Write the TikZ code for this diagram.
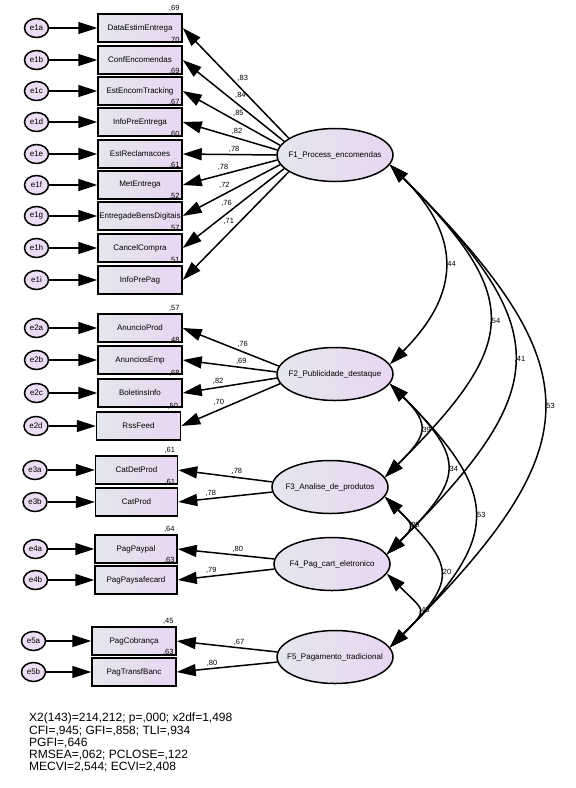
\documentclass[tikz,border=0pt]{standalone}
\usepackage{amsmath}
\usepackage{fontspec}
\setmainfont{Liberation Sans}
\usetikzlibrary{positioning,arrows.meta,shapes.geometric}

\definecolor{boxleft}{HTML}{E4E6EE}
\definecolor{boxright}{HTML}{EAD6F1}
\definecolor{errfill}{HTML}{ECDDF4}

\begin{document}
\begin{tikzpicture}[x=1pt, y=1pt,
						>={Triangle[length=19pt,width=12pt]},
						% Define the styles for variables and paths
						item style/.style={rectangle, draw=black, line width=1.5pt, minimum width=84pt, minimum height=28pt, inner sep=0pt, left color=boxleft, right color=boxright, font=\fontsize{8}{9}\selectfont},
						error style/.style={ellipse, draw=black, line width=1.5pt, minimum width=24pt, minimum height=19pt, inner sep=0pt, fill=errfill, font=\fontsize{8}{9}\selectfont},
						factor style/.style={ellipse, draw=black, line width=1.5pt, minimum width=116pt, minimum height=53pt, inner xsep=-10pt, inner ysep=0pt, left color=boxleft, right color=boxright, font=\fontsize{8}{9}\selectfont},
						value style/.style={font=\fontsize{7.5}{8}\selectfont, inner sep=1pt},
						resid/.style={->, line width=1.5pt},
						load/.style={<-, line width=1.5pt},
						cov/.style={<->, line width=1.5pt}
						]
						\useasboundingbox (0,0) rectangle (576,-788);
						
						% --- Latent factors ---
						\node[factor style] (F1) at (335,-155) {F1\_Process\_encomendas};
						\node[factor style] (F2) at (335,-374) {F2\_Publicidade\_destaque};
						\node[factor style] (F3) at (330,-487) {F3\_Analise\_de\_produtos};
						\node[factor style] (F4) at (332,-564) {F4\_Pag\_cart\_eletronico};
						\node[factor style] (F5) at (335,-657) {F5\_Pagamento\_tradicional};
						
						% --- Observed items ---
						\node[item style] (b1a) at (140,-28) {DataEstimEntrega};
						\node[item style] (b1b) at (140,-60) {ConfEncomendas};
						\node[item style] (b1c) at (140,-91) {EstEncomTracking};
						\node[item style] (b1d) at (140,-122) {InfoPreEntrega};
						\node[item style] (b1e) at (140,-154) {EstReclamacoes};
						\node[item style] (b1f) at (140,-185) {MetEntrega};
						\node[item style] (b1g) at (140,-216) {EntregadeBensDigitais};
						\node[item style] (b1h) at (140,-248) {CancelCompra};
						\node[item style] (b1i) at (140,-280) {InfoPrePag};
						
						\node[item style] (b2a) at (140,-328) {AnuncioProd};
						\node[item style] (b2b) at (140,-360) {AnunciosEmp};
						\node[item style] (b2c) at (140,-393) {BoletinsInfo};
						\node[item style] (b2d) at (138.5,-426) {RssFeed};
						
						\node[item style, minimum width=82pt] (b3a) at (136.5,-470) {CatDetProd};
						\node[item style, minimum width=82pt] (b3b) at (136.5,-502) {CatProd};
						
						\node[item style, minimum width=82pt] (b4a) at (136,-549) {PagPaypal};
						\node[item style, minimum width=82pt] (b4b) at (136,-580) {PagPaysafecard};
						
						\node[item style] (b5a) at (134,-641) {PagCobrança};
						\node[item style] (b5b) at (134,-672) {PagTransfBanc};
						
						% --- Error terms ---
						\node[error style, left=48pt of b1a] (e1a) {e1a};
						\node[error style, left=48pt of b1b] (e1b) {e1b};
						\node[error style, left=48pt of b1c] (e1c) {e1c};
						\node[error style, left=48pt of b1d] (e1d) {e1d};
						\node[error style, left=48pt of b1e] (e1e) {e1e};
						\node[error style, left=48pt of b1f] (e1f) {e1f};
						\node[error style, left=48pt of b1g] (e1g) {e1g};
						\node[error style, left=48pt of b1h] (e1h) {e1h};
						\node[error style, left=48pt of b1i] (e1i) {e1i};
						\node[error style, left=48pt of b2a] (e2a) {e2a};
						\node[error style, left=48pt of b2b] (e2b) {e2b};
						\node[error style, left=48pt of b2c] (e2c) {e2c};
						\node[error style, left=47pt of b2d] (e2d) {e2d};
						\node[error style, left=47pt of b3a] (e3a) {e3a};
						\node[error style, left=47pt of b3b] (e3b) {e3b};
						\node[error style, left=46pt of b4a] (e4a) {e4a};
						\node[error style, left=46pt of b4b] (e4b) {e4b};
						\node[error style, left=45pt of b5a] (e5a) {e5a};
						\node[error style, left=45pt of b5b] (e5b) {e5b};
						
						% --- Squared multiple correlations ---
						\node[value style, anchor=south east] (r1a) at ([xshift=-2pt,yshift=1pt]b1a.north east) {,69};
						\node[value style, anchor=south east] (r1b) at ([xshift=-2pt,yshift=1pt]b1b.north east) {,70};
						\node[value style, anchor=south east] (r1c) at ([xshift=-2pt,yshift=1pt]b1c.north east) {,69};
						\node[value style, anchor=south east] (r1d) at ([xshift=-2pt,yshift=1pt]b1d.north east) {,67};
						\node[value style, anchor=south east] (r1e) at ([xshift=-2pt,yshift=1pt]b1e.north east) {,60};
						\node[value style, anchor=south east] (r1f) at ([xshift=-2pt,yshift=1pt]b1f.north east) {,61};
						\node[value style, anchor=south east] (r1g) at ([xshift=-2pt,yshift=1pt]b1g.north east) {,52};
						\node[value style, anchor=south east] (r1h) at ([xshift=-2pt,yshift=1pt]b1h.north east) {,57};
						\node[value style, anchor=south east] (r1i) at ([xshift=-2pt,yshift=1pt]b1i.north east) {,51};
						\node[value style, anchor=south east] (r2a) at ([xshift=-2pt,yshift=1pt]b2a.north east) {,57};
						\node[value style, anchor=south east] (r2b) at ([xshift=-2pt,yshift=1pt]b2b.north east) {,48};
						\node[value style, anchor=south east] (r2c) at ([xshift=-2pt,yshift=1pt]b2c.north east) {,68};
						\node[value style, anchor=south east] (r2d) at ([xshift=-2pt,yshift=1pt]b2d.north east) {,50};
						\node[value style, anchor=south east] (r3a) at ([xshift=-2pt,yshift=1pt]b3a.north east) {,61};
						\node[value style, anchor=south east] (r3b) at ([xshift=-2pt,yshift=1pt]b3b.north east) {,61};
						\node[value style, anchor=south east] (r4a) at ([xshift=-2pt,yshift=1pt]b4a.north east) {,64};
						\node[value style, anchor=south east] (r4b) at ([xshift=-2pt,yshift=1pt]b4b.north east) {,63};
						\node[value style, anchor=south east] (r5a) at ([xshift=-2pt,yshift=1pt]b5a.north east) {,45};
						\node[value style, anchor=south east] (r5b) at ([xshift=-2pt,yshift=1pt]b5b.north east) {,63};
						
						% --- Error paths ---
						\draw[resid] (e1a) -- (b1a);
						\draw[resid] (e1b) -- (b1b);
						\draw[resid] (e1c) -- (b1c);
						\draw[resid] (e1d) -- (b1d);
						\draw[resid] (e1e) -- (b1e);
						\draw[resid] (e1f) -- (b1f);
						\draw[resid] (e1g) -- (b1g);
						\draw[resid] (e1h) -- (b1h);
						\draw[resid] (e1i) -- (b1i);
						\draw[resid] (e2a) -- (b2a);
						\draw[resid] (e2b) -- (b2b);
						\draw[resid] (e2c) -- (b2c);
						\draw[resid] (e2d) -- (b2d);
						\draw[resid] (e3a) -- (b3a);
						\draw[resid] (e3b) -- (b3b);
						\draw[resid] (e4a) -- (b4a);
						\draw[resid] (e4b) -- (b4b);
						\draw[resid] (e5a) -- (b5a);
						\draw[resid] (e5b) -- (b5b);
						
						% --- Factor loadings ---
						\draw[load] (b1a.east) -- node[value style, auto, pos=.5] {,83} (F1.160);
						\draw[load] (b1b.east) -- node[value style, auto, pos=.5] {,84} (F1.165);
						\draw[load] (b1c.east) -- node[value style, auto, pos=.5] {,85} (F1.170);
						\draw[load] (b1d.east) -- node[value style, auto, pos=.5] {,82} (F1.175);
						\draw[load] (b1e.east) -- node[value style, auto, pos=.55] {,78} (F1.180);
						\draw[load] (b1f.east) -- node[value style, auto, pos=.5] {,78} (F1.185);
						\draw[load] (b1g.east) -- node[value style, auto, pos=.5] {,72} (F1.190);
						\draw[load] (b1h.east) -- node[value style, auto, pos=.5] {,76} (F1.195);
						\draw[load] (b1i.east) -- node[value style, auto, pos=.5] {,71} (F1.200);
						
						\draw[load] (b2a.east) -- node[value style, auto, pos=.55] {,76} (F2.172);
						\draw[load] (b2b.east) -- node[value style, auto, pos=.55] {,69} (F2.178);
						\draw[load] (b2c.east) -- node[value style, auto, pos=.45] {,82} (F2.184);
						\draw[load] (b2d.east) -- node[value style, auto, pos=.45] {,70} (F2.190);
						
						\draw[load] (b3a.east) -- node[value style, auto, pos=.55] {,78} (F3.175);
						\draw[load] (b3b.east) -- node[value style, auto, pos=.42] {,78} (F3.185);
						
						\draw[load] (b4a.east) -- node[value style, auto, pos=.55] {,80} (F4.175);
						\draw[load] (b4b.east) -- node[value style, auto, pos=.42] {,79} (F4.185);
						
						\draw[load] (b5a.east) -- node[value style, auto, pos=.55] {,67} (F5.175);
						\draw[load] (b5b.east) -- node[value style, auto, pos=.42] {,80} (F5.185);
						
						% --- Covariances ---
						\draw[cov] (F1.-10) to[out=-45, in=45, looseness=1.3] node[value style, right, pos=.5] {,44} (F2.10);
						\draw[cov] (F1.-10) to[out=-45, in=45, looseness=1.55] node[value style, right, pos=.5] {,54} (F3.10);
						\draw[cov] (F1.-10) to[out=-45, in=45, looseness=1.54] node[value style, right, pos=.5] {,41} (F4.10);
						\draw[cov] (F1.-10) to[out=-45, in=45, looseness=1.53] node[value style, right, pos=.5] {,53} (F5.10);
						\draw[cov] (F2.-10) to[out=-45, in=45, looseness=1.61] node[value style, right, pos=.5] {,39} (F3.10);
						\draw[cov] (F2.-10) to[out=-45, in=45, looseness=1.62] node[value style, right, pos=.5] {,34} (F4.10);
						\draw[cov] (F2.-10) to[out=-45, in=45, looseness=1.53] node[value style, right, pos=.5] {,53} (F5.10);
						\draw[cov] (F3.-10) to[out=-45, in=45, looseness=1.8] node[value style, right, pos=.5] {,25} (F4.10);
						\draw[cov] (F3.-10) to[out=-45, in=45, looseness=1.65] node[value style, right, pos=.5] {,20} (F5.10);
						\draw[cov] (F4.-10) to[out=-45, in=45, looseness=1.9] node[value style, right, pos=.5] {,43} (F5.10);
						
						% --- Fit indices ---
						\node[anchor=north west, align=left, inner sep=0pt, font=\fontsize{12}{12.2}\selectfont] (fit) at (29,-713) {X2(143)=214,212; p=,000; x2df=1,498\\CFI=,945; GFI=,858; TLI=,934\\PGFI=,646\\RMSEA=,062; PCLOSE=,122\\MECVI=2,544; ECVI=2,408};
					\end{tikzpicture}
\end{document}
